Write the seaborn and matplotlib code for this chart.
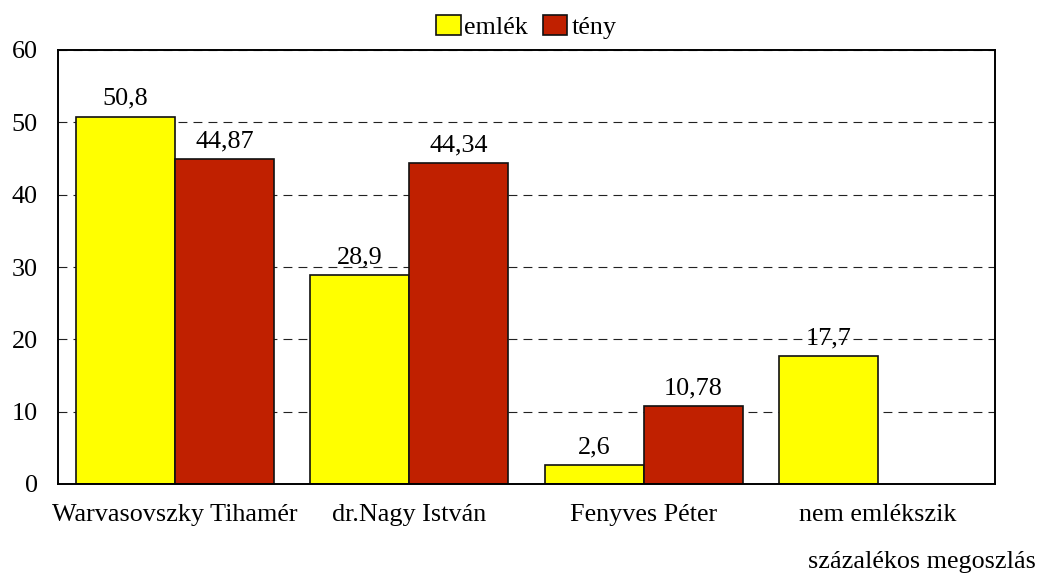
import seaborn as sns
import matplotlib.pyplot as plt
import pandas as pd
import numpy as np

categories = ["Warvasovszky Tihamér", "dr.Nagy István", "Fenyves Péter", "nem emlékszik"]
emlek = [50.8, 28.9, 2.6, 17.7]
teny = [44.87, 44.34, 10.78, np.nan]
emlek_labels = ["50,8", "28,9", "2,6", "17,7"]
teny_labels = ["44,87", "44,34", "10,78", ""]

df = pd.DataFrame({
    "kat": categories * 2,
    "ertek": emlek + teny,
    "sorozat": ["emlék"] * 4 + ["tény"] * 4,
})

sns.set_style("white")
plt.rcParams["font.family"] = ["Liberation Serif", "DejaVu Serif"]
plt.rcParams["text.color"] = "black"
plt.rcParams["xtick.color"] = "black"
plt.rcParams["ytick.color"] = "black"
fs = 18.8

fig = plt.figure(figsize=(10.53, 5.79), dpi=100)
ax = fig.add_axes([58 / 1053, 1 - 484 / 579, 937 / 1053, 434 / 579])

sns.barplot(data=df, x="kat", y="ertek", hue="sorozat",
            palette={"emlék": "#FFFF00", "tény": "#C02000"},
            width=0.846, edgecolor="#111111", linewidth=1.2,
            saturation=1, ax=ax)

ax.set_ylim(0, 60)
ax.set_yticks(range(0, 61, 10))
ax.set_xlim(-0.5, 3.5)
ax.yaxis.grid(True, linestyle=(0, (8, 5.5)), color="#222222", linewidth=0.8)
ax.set_axisbelow(True)
for s in ax.spines.values():
    s.set_visible(True)
    s.set_color("black")
    s.set_linewidth(1.4)

ax.tick_params(axis="y", left=False, labelsize=fs, pad=11)
ax.tick_params(axis="x", bottom=False, labelsize=fs, pad=11)
ax.set_xlabel("")
ax.set_ylabel("")

# value labels; skip the missing bar
for cont, labs in zip(ax.containers, [emlek_labels, teny_labels]):
    for bar, lab in zip(cont.patches, labs):
        if bar is None or not lab:
            continue
        ax.annotate(lab, (bar.get_x() + bar.get_width() / 2, bar.get_height()),
                    xytext=(0, 5), textcoords="offset points",
                    ha="center", va="bottom", fontsize=fs)

handles, labels = ax.get_legend_handles_labels()
ax.get_legend().remove()
fig.legend(handles, labels, loc="center", bbox_to_anchor=(0.4995, 0.953),
           ncol=2, frameon=False, fontsize=fs, handlelength=0.95,
           handleheight=0.8, handletextpad=0.15, columnspacing=0.55,
           borderpad=0.1)

fig.text(1036 / 1053, 0.01, "százalékos megoszlás", ha="right", va="bottom",
         fontsize=fs)

plt.savefig("out.png", dpi=100)
